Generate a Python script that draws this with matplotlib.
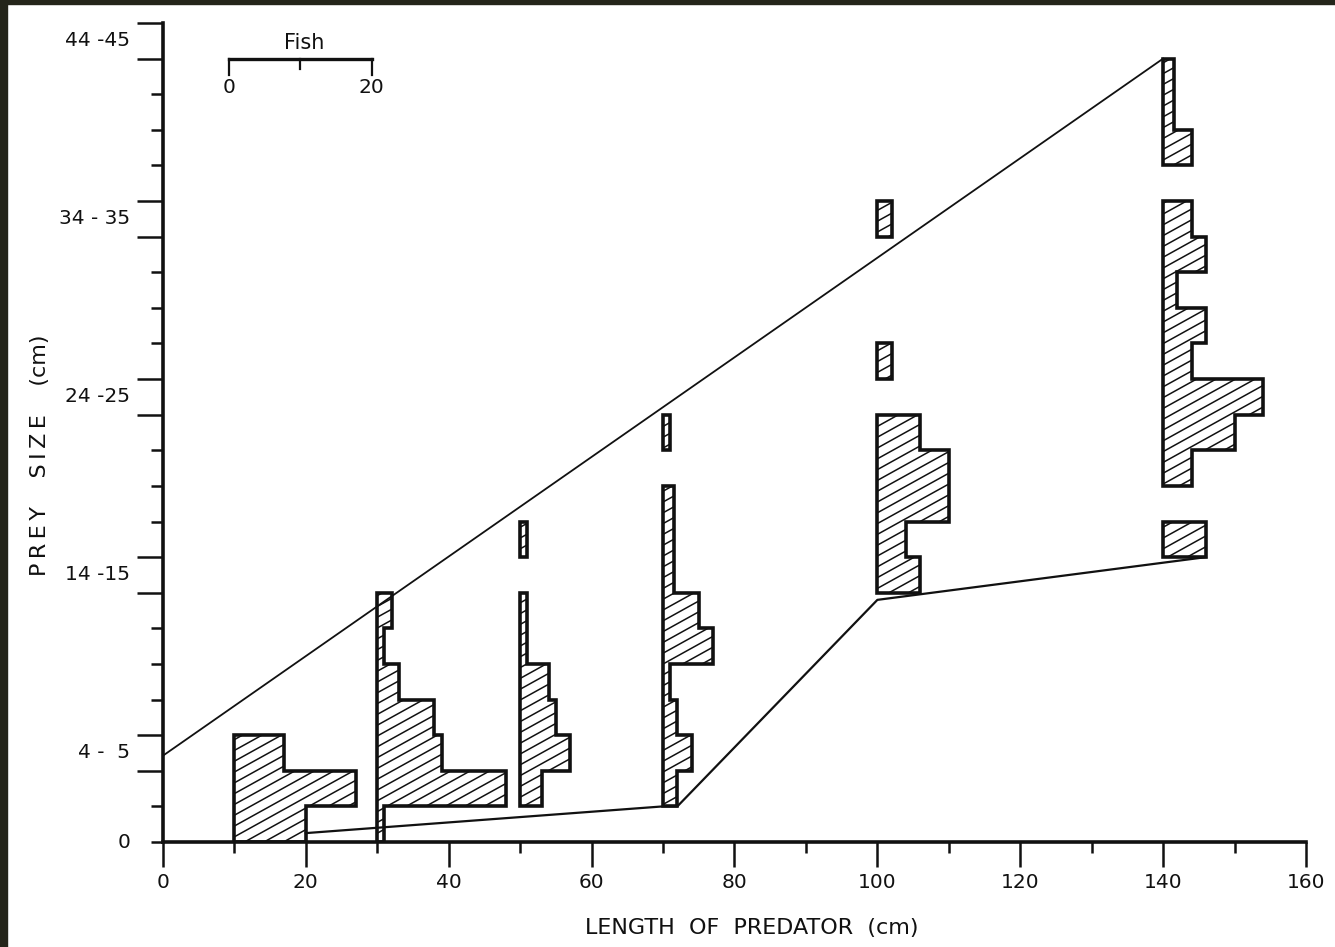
import numpy as np
import matplotlib
matplotlib.use("Agg")
import matplotlib.pyplot as plt
from matplotlib.patches import Polygon, Rectangle
from matplotlib.collections import LineCollection

# predator length classes (cm) where each prey histogram starts
pred_len = [10, 30, 50, 70, 100, 140]

# number of fish per 2-cm prey size bin (bin k = 2k .. 2k+1 cm)
fish_10 = [10, 17, 7]
fish_30 = [1, 18, 9, 8, 3, 1, 2]
fish_50 = [0, 3, 7, 5, 4, 1, 1, 0, 1]
fish_70 = [0, 2, 4, 2, 1, 7, 5, 1.5, 1.5, 1.5, 0, 1]
fish_100 = [0, 0, 0, 0, 0, 0, 0, 6, 4, 10, 10, 6, 0, 2, 0, 0, 0, 2]
fish_140 = [0, 0, 0, 0, 0, 0, 0, 0, 6, 0, 4, 10, 14, 4, 6, 2, 6, 4, 0, 4, 1.5, 1.5]
bin_w = 2

# envelope lines (max and min prey size)
upper_x = [0, 140]
upper_y = [4.85, 44]
lower_x = [20, 70, 72, 100, 146]
lower_y = [0.5, 2.0, 2.0, 13.6, 16.0]

ylab_pos = [0, 5, 15, 25, 35, 45]
ylab_txt = ["0", "4 -  5", "14 -15", "24 -25", "34 - 35", "44 -45"]
ymajor = [4, 6, 14, 16, 24, 26, 34, 36, 44, 46]
xticks = list(range(0, 161, 20))

W, H = 1335, 947
fig = plt.figure(figsize=(W / 100, H / 100), dpi=100)
fig.patch.set_facecolor("white")
ax = fig.add_axes([163 / W, 1 - 842 / H, 1143 / W, 819 / H])
ax.set_xlim(0, 160)
ax.set_ylim(0, 46)
ink = "#111111"

for s in ["top", "right"]:
    ax.spines[s].set_visible(False)
for s in ["left", "bottom"]:
    ax.spines[s].set_linewidth(2.6)
    ax.spines[s].set_color(ink)

# x ticks
ax.set_xticks(xticks)
ax.set_xticklabels([str(t) for t in xticks], fontsize=14.5)
ax.set_xticks(range(10, 160, 20), minor=True)
ax.tick_params(axis="x", which="major", length=18, width=1.8, pad=4, colors=ink)
ax.tick_params(axis="x", which="minor", length=8, width=1.8, colors=ink)

# y ticks: long ones around labelled bins, short ones elsewhere
ax.set_yticks(ymajor)
ax.set_yticklabels([""] * len(ymajor))
ax.set_yticks([v for v in range(0, 47, 2) if v not in ymajor], minor=True)
ax.tick_params(axis="y", which="major", length=19, width=1.8, colors=ink)
ax.tick_params(axis="y", which="minor", length=9, width=1.8, colors=ink)
for p, t in zip(ylab_pos, ylab_txt):
    ax.text(-33 / 7.144, p, t, ha="right", va="center", fontsize=14.5,
            color=ink, clip_on=False)

# hatch geometry (about 29 deg on screen, 11 px apart vertically)
px_x = 1143 / 160
px_y = 819 / 46
slope = np.tan(np.radians(29)) * px_x / px_y
gap = 10.8 / px_y
offs = np.arange(-45, 50, gap)
segs = [[(-5, c - 5 * slope), (165, c + 165 * slope)] for c in offs]


def runs(counts):
    out, cur = [], []
    for i, c in enumerate(counts):
        if c > 0:
            cur.append(i)
        elif cur:
            out.append(cur)
            cur = []
    if cur:
        out.append(cur)
    return out


groups = [fish_10, fish_30, fish_50, fish_70, fish_100, fish_140]
for base, counts in zip(pred_len, groups):
    for r in runs(counts):
        verts = [(base, r[0] * bin_w)]
        for i in r:
            verts.append((base + counts[i], i * bin_w))
            verts.append((base + counts[i], (i + 1) * bin_w))
        verts.append((base, (r[-1] + 1) * bin_w))
        face = Polygon(verts, closed=True, facecolor="white", edgecolor="none", zorder=2)
        ax.add_patch(face)
        lc = LineCollection(segs, colors=ink, linewidths=1.1, zorder=3)
        ax.add_collection(lc)
        lc.set_clip_path(face)
        ax.add_patch(Polygon(verts, closed=True, fill=False, edgecolor=ink,
                             linewidth=2.6, joinstyle="miter", zorder=4))

ax.plot(upper_x, upper_y, color=ink, lw=1.3, zorder=5)
ax.plot(lower_x, lower_y, color=ink, lw=1.6, zorder=5)

# Fish scale bar (0 - 20 fish)
sx0 = 9.2
ax.plot([sx0, sx0 + 20], [44, 44], color=ink, lw=2.4, clip_on=False)
ax.plot([sx0, sx0], [44, 43.1], color=ink, lw=1.6, clip_on=False)
ax.plot([sx0 + 20, sx0 + 20], [44, 43.1], color=ink, lw=1.6, clip_on=False)
ax.plot([sx0 + 10, sx0 + 10], [44, 43.4], color=ink, lw=1.6, clip_on=False)
ax.text(sx0, 42.4, "0", ha="center", va="center", fontsize=14.5, color=ink)
ax.text(sx0 + 20, 42.4, "20", ha="center", va="center", fontsize=14.5, color=ink)
ax.text(sx0 + 10.5, 44.9, "Fish", ha="center", va="center", fontsize=15, color=ink)

fig.text(752 / W, 1 - 928 / H, "LENGTH  OF  PREDATOR  (cm)", ha="center",
         va="center", fontsize=16, color=ink)
fig.text(40 / W, 1 - 455 / H,
         "P\u2009R\u2009E\u2009Y    S\u2009I\u2009Z\u2009E    (cm)",
         ha="center", va="center", rotation=90, fontsize=16, color=ink)

# dark scan border on left and top
dark = "#24251a"
fig.patches.append(Rectangle((0, 0), 7 / W, 1, transform=fig.transFigure,
                             color=dark, zorder=10))
fig.patches.append(Rectangle((0, 1 - 4 / H), 1, 4 / H, transform=fig.transFigure,
                             color=dark, zorder=10))

fig.savefig("out.png", dpi=100)
